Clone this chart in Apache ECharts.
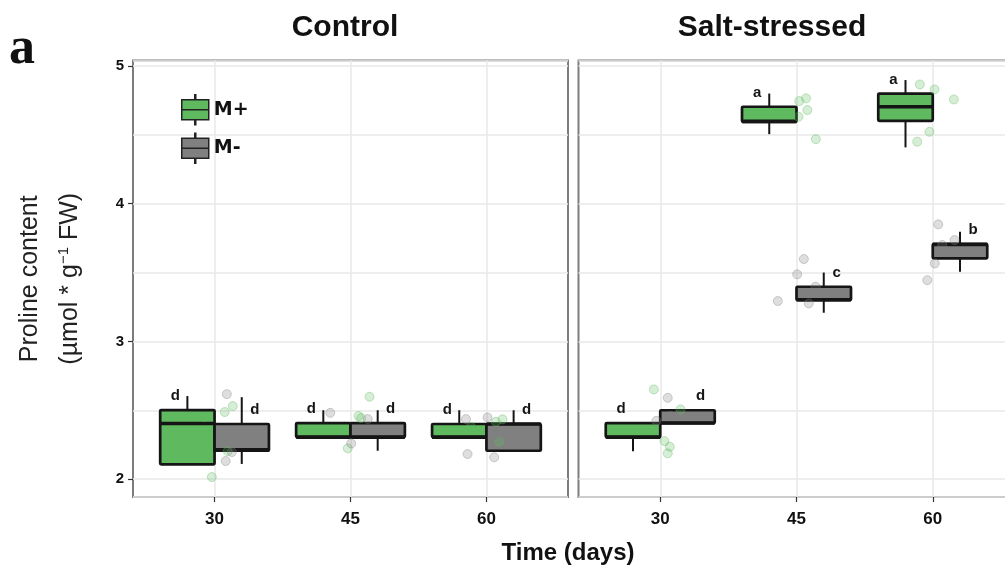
<!DOCTYPE html>
<html><head><meta charset="utf-8">
<script src="https://cdn.jsdelivr.net/npm/echarts@6/dist/echarts.min.js"></script>
<style>html,body{margin:0;padding:0;background:#fff}#c{width:1005px;height:572px}</style>
</head><body><div id="c"></div>
<script>
// ---- data ----
const days = ['30', '45', '60'];
const panelTitles = ['Control', 'Salt-stressed'];
const groups = ['M+', 'M-'];
const yTicks = [2, 3, 4, 5];
// box stats per day: [dayIndex(1..3), min, q1, median, q3, max]
const ctrlPlus  = [[1, 2.107, 2.107, 2.404, 2.501, 2.603], [2, 2.305, 2.305, 2.305, 2.407, 2.500], [3, 2.305, 2.305, 2.305, 2.400, 2.500]];
const ctrlMinus = [[1, 2.110, 2.206, 2.212, 2.400, 2.595], [2, 2.206, 2.305, 2.305, 2.407, 2.500], [3, 2.206, 2.206, 2.400, 2.400, 2.500]];
const saltPlus  = [[1, 2.203, 2.305, 2.305, 2.407, 2.407], [2, 4.505, 4.595, 4.598, 4.704, 4.800], [3, 4.409, 4.602, 4.704, 4.800, 4.898]];
const saltMinus = [[1, 2.407, 2.407, 2.407, 2.500, 2.500], [2, 3.208, 3.300, 3.303, 3.397, 3.500], [3, 3.505, 3.603, 3.705, 3.707, 3.796]];
// significance letters
const ctrlPlusLetters  = ['d', 'd', 'd'];
const ctrlMinusLetters = ['d', 'd', 'd'];
const saltPlusLetters  = ['d', 'a', 'a'];
const saltMinusLetters = ['d', 'c', 'b'];
// individual observations: [day position (jittered), value]
const ctrlPlusPts  = [[1.134, 2.53], [1.075, 2.487], [0.928, 2.45], [1.097, 2.203], [0.98, 2.015],
                      [2.14, 2.598], [2.059, 2.458], [1.98, 2.223], [2.078, 2.443],
                      [2.886, 2.38], [3.118, 2.434], [3.094, 2.271], [3.07, 2.416]];
const ctrlMinusPts = [[1.09, 2.617], [1.082, 2.131], [1.127, 2.196],
                      [1.851, 2.481], [2.127, 2.436], [2.005, 2.259],
                      [2.849, 2.436], [3.008, 2.448], [2.861, 2.182], [3.057, 2.158], [3.08, 2.32]];
const saltPlusPts  = [[0.953, 2.651], [1.149, 2.506], [1.031, 2.276], [1.07, 2.235], [1.055, 2.187],
                      [2.02, 4.745], [2.07, 4.765], [2.08, 4.68], [2.142, 4.469], [2.015, 4.631],
                      [2.905, 4.866], [3.013, 4.83], [3.155, 4.757], [2.976, 4.522], [2.886, 4.45]];
const saltMinusPts = [[1.055, 2.59], [1.075, 2.458], [0.972, 2.423],
                      [2.054, 3.598], [2.005, 3.487], [1.863, 3.293], [2.09, 3.276], [2.14, 3.397],
                      [3.04, 3.85], [3.16, 3.736], [3.015, 3.566], [2.96, 3.445], [3.07, 3.70]];

// ---- styling ----
const GREEN = '#5fba5f';
const GRAY = '#808080';
const INK = '#151515';
const SANS = '"Liberation Sans", Arial, sans-serif';

function boxRenderer(offset, letters, labelDx) {
  return function (params, api) {
    const c = api.value(0) + offset;
    const hw = 0.2;
    const vMin = api.value(1), q1 = api.value(2), med = api.value(3), q3 = api.value(4), vMax = api.value(5);
    const tl = api.coord([c - hw, q3]);
    const br = api.coord([c + hw, q1]);
    const top = api.coord([c, vMax]);
    const bot = api.coord([c, vMin]);
    const mL = api.coord([c - hw, med]);
    const mR = api.coord([c + hw, med]);
    const cx = top[0];
    const color = api.visual('color');
    return {
      type: 'group',
      children: [
        { type: 'line', shape: { x1: cx, y1: top[1], x2: cx, y2: tl[1] }, style: { stroke: INK, lineWidth: 2 } },
        { type: 'line', shape: { x1: cx, y1: br[1], x2: cx, y2: bot[1] }, style: { stroke: INK, lineWidth: 2 } },
        { type: 'rect', shape: { x: tl[0], y: tl[1], width: br[0] - tl[0], height: br[1] - tl[1], r: 1 },
          style: { fill: color, stroke: INK, lineWidth: 2.7 } },
        { type: 'line', shape: { x1: mL[0], y1: mL[1], x2: mR[0], y2: mR[1] }, style: { stroke: INK, lineWidth: 3.6 } },
        { type: 'text', x: cx + labelDx, y: tl[1] - 14,
          style: { text: letters[params.dataIndex], fill: INK, font: 'bold 15px ' + SANS,
                   align: 'center', verticalAlign: 'middle' } }
      ]
    };
  };
}

function boxSeries(name, color, data, axis, offset, letters, dx) {
  return {
    type: 'custom', name: name, xAxisIndex: axis, yAxisIndex: axis,
    itemStyle: { color: color },
    encode: { x: 0, y: [1, 2, 3, 4, 5] },
    renderItem: boxRenderer(offset, letters, dx),
    data: data, z: 3
  };
}
function ptSeries(name, fill, stroke, data, axis) {
  return {
    type: 'scatter', name: name, xAxisIndex: axis, yAxisIndex: axis,
    symbolSize: 9, data: data, z: 5, silent: true,
    itemStyle: { color: fill, borderColor: stroke, borderWidth: 1 }
  };
}

const gridLine = { show: true, lineStyle: { color: '#e9e9e9', width: 1.5 } };
const tickStyle = { lineStyle: { color: '#333', width: 1.2 }, length: 5 };

function xAxis(i) {
  return {
    type: 'value', gridIndex: i, min: 0.4, max: 3.6,
    axisLine: { show: false },
    axisTick: Object.assign({ show: true, customValues: [1, 2, 3] }, tickStyle),
    axisLabel: { customValues: [1, 2, 3], formatter: v => days[Math.round(v) - 1], margin: 14,
                 fontSize: 17, fontWeight: 'bold', color: '#111', fontFamily: SANS },
    splitLine: gridLine
  };
}
function yAxis(i) {
  const a = {
    type: 'value', gridIndex: i, min: 1.87, max: 5.04,
    axisLine: { show: false },
    axisTick: Object.assign({ show: i === 0, customValues: yTicks }, tickStyle),
    axisLabel: { show: i === 0, customValues: yTicks, margin: 9, fontSize: 15, fontWeight: 'bold', color: '#111',
                 fontFamily: SANS },
    splitLine: { show: false }
  };
  if (i === 0) {
    a.name = '{a|Proline content}\n{a|(µmol * g}{s|−1}{a| FW)}';
    a.nameLocation = 'middle';
    a.nameRotate = 90;
    a.nameGap = 43;
    a.nameTextStyle = {
      rich: {
        a: { fontSize: 25, lineHeight: 40, color: '#222', fontFamily: SANS },
        s: { fontSize: 15, lineHeight: 15, padding: [0, 0, 13, 0], color: '#222', fontFamily: SANS }
      }
    };
  }
  return a;
}
// helper axes carrying the major + minor horizontal grid lines
function yGridAxis(i) {
  return {
    type: 'value', gridIndex: i, min: 1.87, max: 5.04, splitNumber: 6,
    axisLine: { show: false }, axisTick: { show: false }, axisLabel: { show: false },
    splitLine: gridLine
  };
}

const chart = echarts.init(document.getElementById('c'), null, { renderer: 'canvas' });
chart.setOption({
  animation: false,
  backgroundColor: '#fff',
  grid: [
    { left: 133, top: 60.5, width: 435, height: 436.5, show: true, borderColor: '#7c7c7c', borderWidth: 2,
      backgroundColor: '#fff', outerBoundsMode: 'none', containLabel: false },
    { left: 578.5, top: 60.5, width: 436, height: 436.5, show: true, borderColor: '#7c7c7c', borderWidth: 2,
      backgroundColor: '#fff', outerBoundsMode: 'none', containLabel: false }
  ],
  xAxis: [xAxis(0), xAxis(1)],
  yAxis: [yAxis(0), yAxis(1), yGridAxis(0), yGridAxis(1)],
  legend: {
    data: groups, orient: 'vertical', left: 176, top: 89,
    itemWidth: 27, itemHeight: 30, itemGap: 7,
    icon: 'path://M13,0h1v5h-1z M0,5h27v10h-27z M0,15h27v10h-27z M13,25h1v5h-1z',
    itemStyle: { borderColor: '#222', borderWidth: 1.5 },
    textStyle: { fontSize: 19, fontWeight: 'bold', color: '#111', fontFamily: '"DejaVu Sans", sans-serif' },
    selectedMode: false
  },
  graphic: [
    { type: 'text', x: 22, y: 50, style: { text: 'a', font: 'bold 52px "Liberation Serif", serif', fill: '#111', align: 'center', verticalAlign: 'middle' } },
    { type: 'text', x: 345, y: 28, style: { text: panelTitles[0], font: 'bold 30px ' + SANS, fill: '#111', align: 'center', verticalAlign: 'middle' } },
    { type: 'text', x: 772, y: 28, style: { text: panelTitles[1], font: 'bold 30px ' + SANS, fill: '#111', align: 'center', verticalAlign: 'middle' } },
    { type: 'text', x: 568, y: 553, style: { text: 'Time (days)', font: 'bold 24px ' + SANS, fill: '#111', align: 'center', verticalAlign: 'middle' } }
  ],
  series: [
    boxSeries(groups[0], GREEN, ctrlPlus, 0, -0.2, ctrlPlusLetters, -12),
    boxSeries(groups[1], GRAY, ctrlMinus, 0, 0.2, ctrlMinusLetters, 13),
    boxSeries(groups[0], GREEN, saltPlus, 1, -0.2, saltPlusLetters, -12),
    boxSeries(groups[1], GRAY, saltMinus, 1, 0.2, saltMinusLetters, 13),
    ptSeries('M+ obs', 'rgba(95,186,95,0.32)', 'rgba(95,186,95,0.45)', ctrlPlusPts, 0),
    ptSeries('M- obs', 'rgba(128,128,128,0.32)', 'rgba(128,128,128,0.45)', ctrlMinusPts, 0),
    ptSeries('M+ obs', 'rgba(95,186,95,0.32)', 'rgba(95,186,95,0.45)', saltPlusPts, 1),
    ptSeries('M- obs', 'rgba(128,128,128,0.32)', 'rgba(128,128,128,0.45)', saltMinusPts, 1)
  ]
});
</script>
</body></html>
